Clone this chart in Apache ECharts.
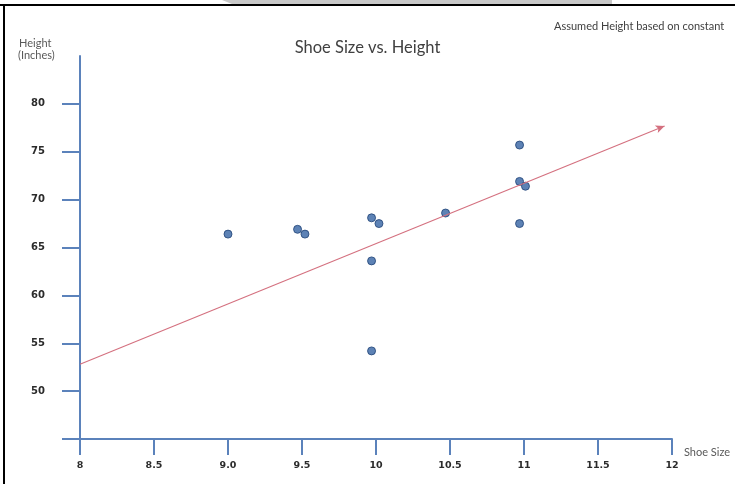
<!DOCTYPE html>
<html>
<head>
<meta charset="utf-8">
<script src="https://cdn.jsdelivr.net/npm/echarts@6/dist/echarts.min.js"></script>
<style>
html,body{margin:0;padding:0;background:#fff;}
#chart{width:735px;height:484px;}
</style>
</head>
<body>
<div id="chart"></div>
<script>
// Data
var shoeSize = [9.0, 9.47, 9.52, 9.97, 10.02, 9.97, 9.97, 10.47, 10.97, 10.97, 11.01, 10.97];
var height   = [66.4, 66.9, 66.4, 68.1, 67.5, 63.6, 54.2, 68.6, 75.7, 71.9, 71.4, 67.5];
var trendX = [8, 11.95];
var trendY = [52.8, 77.7];
var xTickValues = [8, 8.5, 9, 9.5, 10, 10.5, 11, 11.5, 12];
var xTickLabels = ['8', '8.5', '9.0', '9.5', '10', '10.5', '11', '11.5', '12'];
var yTickValues = [45, 50, 55, 60, 65, 70, 75, 80];
var yLabelValues = [50, 55, 60, 65, 70, 75, 80];

var axisBlue = '#5b82bb';
var font = 'Lato, "Open Sans", sans-serif';
var tickFont = '"DejaVu Sans", Verdana, sans-serif';

var points = shoeSize.map(function (x, i) { return [x, height[i]]; });

var chart = echarts.init(document.getElementById('chart'));
chart.setOption({
  animation: false,
  backgroundColor: '#ffffff',
  title: {
    text: 'Shoe Size vs. Height',
    left: 'center',
    top: 34,
    textStyle: { fontFamily: font, fontSize: 16.5, fontWeight: 'normal', color: '#404040' }
  },
  grid: { left: 80, right: 63, top: 56, bottom: 45 },
  xAxis: {
    type: 'value',
    min: 8, max: 12, interval: 0.5,
    splitLine: { show: false },
    axisLine: { show: true, onZero: false, lineStyle: { color: axisBlue, width: 2 } },
    axisTick: { show: true, length: 16, lineStyle: { color: axisBlue, width: 2 }, customValues: xTickValues },
    axisLabel: {
      margin: 22,
      fontFamily: tickFont, fontSize: 9.5, fontWeight: 'bold', color: '#2b2b2b',
      customValues: xTickValues,
      formatter: function (v) {
        var i = xTickValues.indexOf(v);
        return i >= 0 ? xTickLabels[i] : '';
      }
    },
    name: 'Shoe Size',
    nameLocation: 'end',
    nameGap: 12,
    nameTextStyle: { fontFamily: font, fontSize: 11, color: '#595959', verticalAlign: 'top', padding: [8, 0, 0, 0] }
  },
  yAxis: {
    type: 'value',
    min: 45, max: 85, interval: 5,
    splitLine: { show: false },
    axisLine: { show: true, onZero: false, lineStyle: { color: axisBlue, width: 2 } },
    axisTick: { show: true, length: 18, lineStyle: { color: axisBlue, width: 2 }, customValues: yTickValues },
    axisLabel: {
      margin: 35,
      fontFamily: tickFont, fontSize: 10, fontWeight: 'bold', color: '#2b2b2b',
      customValues: yLabelValues
    }
  },
  graphic: [
    { type: 'polygon', shape: { points: [[222, 0], [612, 0], [612, 4], [232, 4]] }, style: { fill: '#c8c8c8' }, silent: true },
    { type: 'rect', shape: { x: 0, y: 4, width: 735, height: 2 }, style: { fill: '#000000' }, silent: true },
    { type: 'rect', shape: { x: 3, y: 4, width: 2, height: 480 }, style: { fill: '#000000' }, silent: true },
    { type: 'text', left: 554, top: 21, style: { text: 'Assumed Height based on constant', font: '11px ' + font, fill: '#404040' } },
    { type: 'text', left: 19, top: 38, style: { text: 'Height', font: '11px ' + font, fill: '#595959' } },
    { type: 'text', left: 18, top: 50, style: { text: '(Inches)', font: '11px ' + font, fill: '#595959' } }
  ],
  series: [
    {
      type: 'scatter',
      data: points,
      symbol: 'circle',
      symbolSize: 8,
      itemStyle: { color: '#3563a3', borderColor: '#1f4276', borderWidth: 1 },
      z: 3
    },
    {
      type: 'line',
      data: [],
      markLine: {
        silent: true,
        symbol: ['none', 'arrow'],
        symbolSize: [6, 9],
        label: { show: false },
        lineStyle: { color: '#d4707f', width: 1.1, type: 'solid' },
        data: [[{ coord: [trendX[0], trendY[0]] }, { coord: [trendX[1], trendY[1]] }]]
      }
    }
  ]
});
</script>
</body>
</html>
